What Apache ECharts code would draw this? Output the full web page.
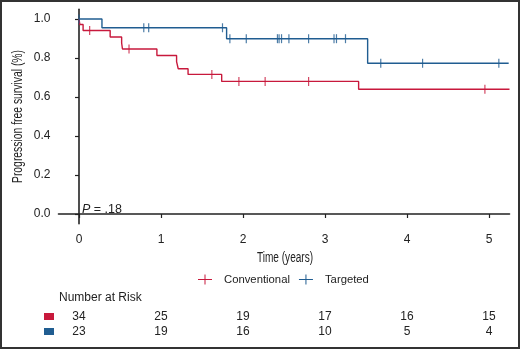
<!DOCTYPE html>
<html>
<head>
<meta charset="utf-8">
<script src="https://cdn.jsdelivr.net/npm/echarts@6/dist/echarts.min.js"></script>
<style>
  html, body { margin: 0; padding: 0; background: #fff; }
  #chart { width: 520px; height: 349px; }
</style>
</head>
<body>
<div id="chart"></div>
<script>
// axis ticks
const yearTicks = [0, 1, 2, 3, 4, 5];
const survTicks = [0, 0.2, 0.4, 0.6, 0.8, 1.0];

// Conventional arm: step times (years) and survival after each step
const convTimes = [0, 0.01, 0.05, 0.38, 0.52, 0.53, 0.95, 1.19, 1.21, 1.33, 1.74, 3.41, 5.25];
const convSurv = [1.0, 0.972, 0.941, 0.908, 0.877, 0.846, 0.813, 0.781, 0.745, 0.716, 0.680, 0.640, 0.640];
const convCensor = [0.13, 0.61, 1.62, 1.95, 2.27, 2.80, 4.95];

// Targeted arm
const targTimes = [0, 0.28, 1.80, 3.52, 5.24];
const targSurv = [1.0, 0.955, 0.899, 0.773, 0.773];
const targCensor = [0.0, 0.79, 0.85, 1.75, 1.84, 2.04, 2.42, 2.44, 2.47, 2.56, 2.80, 3.11, 3.14, 3.25, 3.68, 4.19, 5.12];

// number at risk, at each year tick
const riskConv = [34, 25, 19, 17, 16, 15];
const riskTarg = [23, 19, 16, 10, 5, 4];

const RED = '#c8193c';
const BLUE = '#205d91';
const FONT = '"Liberation Sans", Arial, sans-serif';
const PLUS = 'path://M0,4.4H6.5V0H7.5V4.4H14V5.6H7.5V10H6.5V5.6H0Z';

function pairs(xs, ys) {
  return xs.map((x, i) => [x, ys[i]]);
}

// survival value of a step curve at time t
function survAt(times, surv, t) {
  let s = surv[0];
  for (let i = 0; i < times.length; i++) {
    if (times[i] <= t) s = surv[i];
  }
  return s;
}

const chart = echarts.init(document.getElementById('chart'), null, { renderer: 'canvas' });

const option = {
  animation: false,
  textStyle: { fontFamily: FONT },
  grid: { left: 58.5, top: 9.25, width: 451, height: 214.5 },
  legend: {
    left: 193,
    top: 269,
    itemWidth: 14,
    itemHeight: 10,
    itemGap: 9,
    data: [
      { name: 'Conventional', icon: PLUS },
      { name: 'Targeted', icon: PLUS }
    ],
    textStyle: { fontFamily: FONT, fontSize: 11.3, color: '#222', padding: [0, 0, 0, 7] }
  },
  xAxis: {
    type: 'value',
    min: -0.25,
    max: 5.25,
    axisLine: { lineStyle: { color: '#222', width: 1.6 } },
    axisTick: { show: true, length: 4, customValues: yearTicks, lineStyle: { color: '#222', width: 1.2 } },
    axisLabel: { customValues: yearTicks, margin: 10, fontSize: 12, color: '#222', fontFamily: FONT },
    splitLine: { show: false }
  },
  yAxis: {
    type: 'value',
    min: -0.05,
    max: 1.05,
    axisLine: { show: true, lineStyle: { color: '#222', width: 1.6 } },
    axisTick: { show: true, length: 4, customValues: survTicks, lineStyle: { color: '#222', width: 1.2 } },
    axisLabel: {
      customValues: survTicks, margin: 8, fontSize: 12, color: '#222', fontFamily: FONT,
      formatter: (v) => v.toFixed(1)
    },
    splitLine: { show: false }
  },
  series: [
    {
      name: 'Conventional',
      type: 'line',
      step: 'end',
      symbol: 'none',
      color: RED,
      lineStyle: { color: RED, width: 1.4 },
      data: pairs(convTimes, convSurv),
      z: 3
    },
    {
      name: 'Targeted',
      type: 'line',
      step: 'end',
      symbol: 'none',
      color: BLUE,
      lineStyle: { color: BLUE, width: 1.4 },
      data: pairs(targTimes, targSurv),
      z: 3
    },
    {
      name: 'Conventional censored',
      type: 'scatter',
      symbol: 'rect',
      symbolSize: [1.2, 9],
      itemStyle: { color: RED },
      data: convCensor.map((t) => [t, survAt(convTimes, convSurv, t)]),
      z: 4
    },
    {
      name: 'Targeted censored',
      type: 'scatter',
      symbol: 'rect',
      symbolSize: [1.2, 9],
      itemStyle: { color: BLUE },
      data: targCensor.map((t) => [t, survAt(targTimes, targSurv, t)]),
      z: 4
    }
  ]
};

chart.setOption(option);

// axis titles (condensed), number-at-risk table and annotations
const graphic = [];
graphic.push({
  type: 'rect', silent: true,
  shape: { x: 1, y: 1, width: 518, height: 347 },
  style: { fill: 'none', stroke: '#333', lineWidth: 2 }
});
graphic.push({
  type: 'text', x: 285, y: 258, scaleX: 0.72,
  style: { text: 'Time (years)', fontSize: 14, fontFamily: FONT, fill: '#222', align: 'center', verticalAlign: 'middle' }
});
graphic.push({
  type: 'text', x: 18, y: 116.5, rotation: Math.PI / 2, scaleX: 0.74,
  style: { text: 'Progression free survival (%)', fontSize: 14, fontFamily: FONT, fill: '#222', align: 'center', verticalAlign: 'middle' }
});
graphic.push({
  type: 'text', x: 82, y: 210,
  style: {
    text: '{i|P} = .18', fontSize: 12.5, fontFamily: FONT, fill: '#222', verticalAlign: 'middle',
    rich: { i: { fontStyle: 'italic', fontSize: 12.5, fontFamily: FONT, fill: '#222' } }
  }
});
graphic.push({
  type: 'text', x: 59, y: 298,
  style: { text: 'Number at Risk', fontSize: 12, fontFamily: FONT, fill: '#222', verticalAlign: 'middle' }
});
graphic.push({ type: 'rect', shape: { x: 44, y: 313, width: 10, height: 7 }, style: { fill: RED } });
graphic.push({ type: 'rect', shape: { x: 44, y: 328, width: 10, height: 7 }, style: { fill: BLUE } });
yearTicks.forEach((t, i) => {
  const px = chart.convertToPixel({ xAxisIndex: 0 }, t);
  graphic.push({
    type: 'text', x: px, y: 316.5,
    style: { text: String(riskConv[i]), fontSize: 12, fontFamily: FONT, fill: '#222', align: 'center', verticalAlign: 'middle' }
  });
  graphic.push({
    type: 'text', x: px, y: 331.5,
    style: { text: String(riskTarg[i]), fontSize: 12, fontFamily: FONT, fill: '#222', align: 'center', verticalAlign: 'middle' }
  });
});
chart.setOption({ graphic: graphic });
</script>
</body>
</html>
